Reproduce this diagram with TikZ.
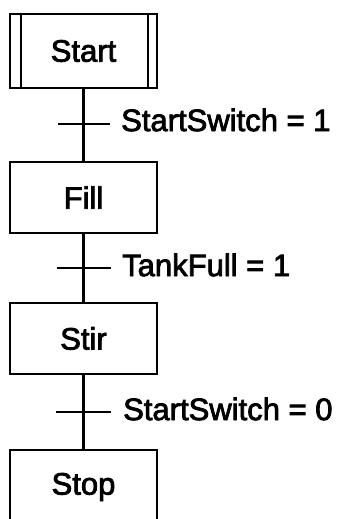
\documentclass[tikz,border=0pt]{standalone}
\usepackage{fontspec}
\setmainfont{Liberation Sans}
\newfontfamily\labelfont{Liberation Sans}[FakeBold=2.5]
\begin{document}
\begin{tikzpicture}[x=1pt,y=-1pt,
  stepbox/.style={draw=black,line width=2.6pt,minimum width=147pt,minimum height=71pt,inner sep=0pt,font=\labelfont\fontsize{31}{36}\selectfont},
  flow/.style={line width=2.6pt},
  bar/.style={line width=2.6pt},
  cond/.style={anchor=west,inner sep=0pt,font=\labelfont\fontsize{31}{36}\selectfont}]
\useasboundingbox (0,0) rectangle (343,519);
\clip (0,0) rectangle (343,519);
\fill[white] (0,0) rectangle (343,519);
\node[stepbox,minimum height=74pt] (start) at (83.5,51) {Start};
\draw[line width=2.6pt] (21,14) -- (21,88) (148,14) -- (148,88);
\node[stepbox] (fill) at (83.5,197.5) {Fill};
\node[stepbox] (stir) at (83.5,338.5) {Stir};
\node[stepbox,minimum height=74pt] (stop) at (83.5,487) {Stop};
\draw[flow] (start.south) -- (fill.north);
\draw[flow] (fill.south) -- (stir.north);
\draw[flow] (stir.south) -- (stop.north);
\coordinate (t1) at (83.5,124);
\coordinate (t2) at (83.5,268);
\coordinate (t3) at (83.5,412);
\draw[bar] ([xshift=-26pt]t1) -- ([xshift=26pt]t1);
\draw[bar] ([xshift=-27pt]t2) -- ([xshift=27pt]t2);
\draw[bar] ([xshift=-28pt]t3) -- ([xshift=27pt]t3);
\node[cond] (c1) at (121,120) {StartSwitch = 1};
\node[cond] (c2) at (122,265) {TankFull = 1};
\node[cond] (c3) at (123,409) {StartSwitch = 0};
\end{tikzpicture}
\end{document}
